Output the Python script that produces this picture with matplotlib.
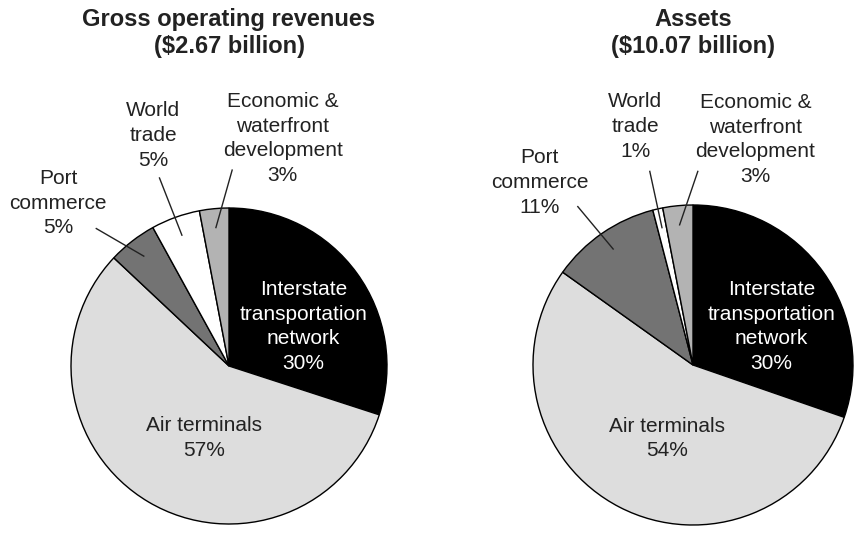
import matplotlib.pyplot as plt
import numpy as np

plt.rcParams['font.family'] = ['Liberation Sans', 'DejaVu Sans']

# data
categories = ['Interstate\ntransportation\nnetwork', 'Air terminals', 'Port\ncommerce',
              'World\ntrade', 'Economic &\nwaterfront\ndevelopment']
revenues = [30, 57, 5, 5, 3]
assets = [30, 54, 11, 1, 3]
titles = ['Gross operating revenues\n($2.67 billion)', 'Assets\n($10.07 billion)']
colors = ['#000000', '#dddddd', '#737373', '#ffffff', '#b3b3b3']
text_colors = ['white', '#222222', '#222222', '#222222', '#222222']

W, H = 855, 542
fig = plt.figure(figsize=(W / 100, H / 100), dpi=100)

# layout: axes pixel span, pie centre, radius, label spots (in radius units)
panels = [
    dict(span=(0, 430), center=(229, 366), R=158,
         text=[(0.47, 0.25), (-0.16, -0.456), (-1.08, 1.03), (-0.48, 1.46), (0.34, 1.44)],
         lead=[None, None, (-0.84, 0.87), (-0.44, 1.19), (0.02, 1.24)]),
    dict(span=(430, 855), center=(693, 365), R=160,
         text=[(0.49, 0.24), (-0.16, -0.46), (-0.96, 1.14), (-0.36, 1.49), (0.39, 1.41)],
         lead=[None, None, (-0.72, 0.99), (-0.27, 1.21), (0.03, 1.21)]),
]

for vals, title, p in zip([revenues, assets], titles, panels):
    x0, x1 = p['span']
    cx, cy = p['center']
    R = p['R']
    ax = fig.add_axes([x0 / W, 0, (x1 - x0) / W, 1])
    wedges, _ = ax.pie(vals, colors=colors, startangle=90, counterclock=False,
                       wedgeprops=dict(edgecolor='black', linewidth=1.0))
    ax.set_xlim((x0 - cx) / R, (x1 - cx) / R)
    ax.set_ylim((cy - H) / R, cy / R)
    ax.set_aspect('auto')
    ax.axis('off')

    for i, (w, lab, v) in enumerate(zip(wedges, categories, vals)):
        tx, ty = p['text'][i]
        ax.text(tx, ty, f'{lab}\n{v}%', ha='center', va='center', fontsize=15,
                color=text_colors[i], linespacing=1.38)
        if p['lead'][i] is not None:
            mid = np.deg2rad((w.theta1 + w.theta2) / 2)
            ex, ey = p['lead'][i]
            ax.plot([0.88 * np.cos(mid), ex], [0.88 * np.sin(mid), ey],
                    color='#222222', linewidth=1.0)

    fig.text(cx / W, 1 - 33 / H, title, ha='center', va='center', fontsize=17,
             fontweight='bold', color='#222222', linespacing=1.25)

fig.savefig('out.png', dpi=100, facecolor='white')
